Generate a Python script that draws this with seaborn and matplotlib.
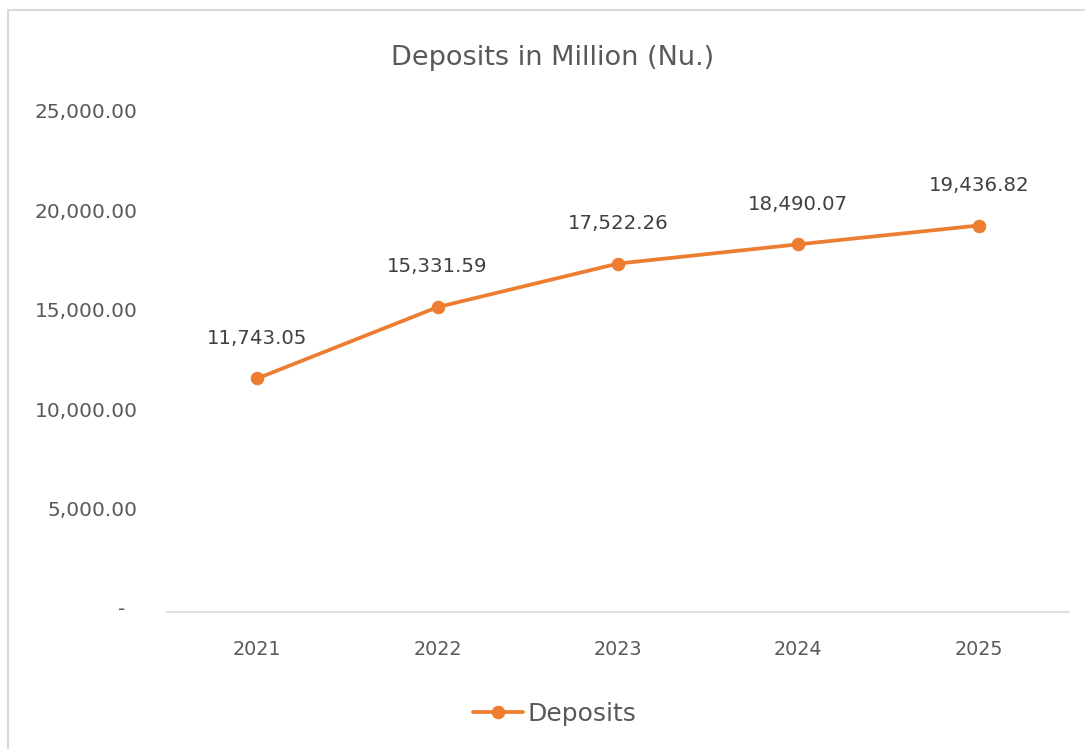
import matplotlib
matplotlib.use("Agg")
import matplotlib.pyplot as plt
import matplotlib.patches as mpatches
import matplotlib.transforms as mtransforms
import seaborn as sns
import pandas as pd

years = ["2021", "2022", "2023", "2024", "2025"]
deposits = [11743.05, 15331.59, 17522.26, 18490.07, 19436.82]
y_ticks = [0, 5000, 10000, 15000, 20000, 25000]
y_tick_labels = ["-  ", "5,000.00", "10,000.00", "15,000.00", "20,000.00", "25,000.00"]
title = "Deposits in Million (Nu.)"
series_name = "Deposits"

sns.set_style("white")
plt.rcParams['font.family'] = ['DejaVu Sans']

text_color = "#595959"
orange = "#ED7D31"

df = pd.DataFrame({"Year": years, series_name: deposits})

fig = plt.figure(figsize=(10.85, 7.49), dpi=100)
ax = fig.add_axes([0.1539, 0.183, 0.8313, 0.6636])

sns.lineplot(data=df, x="Year", y=series_name, ax=ax, color=orange, linewidth=2.7,
             marker="o", markersize=9, markeredgecolor=orange, label=series_name, sort=False)

ax.set_xlim(-0.5, 4.5)
ax.set_ylim(0, 25000)
ax.set_yticks(y_ticks)
ax.set_yticklabels(y_tick_labels, fontsize=14.5)
ax.set_xlabel("")
ax.set_ylabel("")
ax.tick_params(axis="both", length=0, colors=text_color)
ax.tick_params(axis="x", labelsize=13.8, pad=20)
ax.tick_params(axis="y", pad=21)

shift = mtransforms.ScaledTranslation(0, 4 / 100, fig.dpi_scale_trans)
for lbl in ax.get_yticklabels():
    lbl.set_transform(lbl.get_transform() + shift)

for s in ["top", "right", "left"]:
    ax.spines[s].set_visible(False)
ax.spines["bottom"].set_color("#d9d9d9")
ax.spines["bottom"].set_linewidth(1.2)

for i, v in enumerate(deposits):
    ax.annotate(f"{v:,.2f}", xy=(i, v), xytext=(0, 29), textcoords="offset points",
                ha="center", va="center", fontsize=14.2, color="#404040")

fig.text(0.509, 0.922, title, ha="center", va="center", fontsize=19.5, color=text_color)

leg = ax.legend(loc="center", bbox_to_anchor=(0.43, -0.205), frameon=False,
                fontsize=18, handlelength=2.0, handletextpad=0.2)
for t in leg.get_texts():
    t.set_color(text_color)

rect = mpatches.Rectangle((8 / 1085, -0.01), 1.02, 1 - 10 / 749 + 0.01, transform=fig.transFigure,
                          fill=False, edgecolor="#d9d9d9", linewidth=1.5)
fig.patches.append(rect)

fig.savefig("out.png", dpi=100)
